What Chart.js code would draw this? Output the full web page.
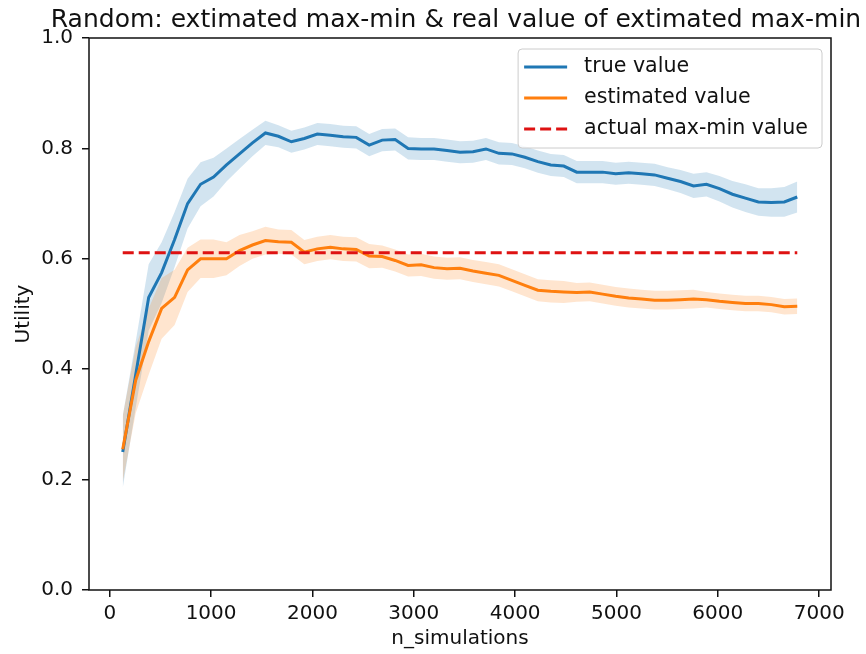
<!DOCTYPE html>
<html>
<head>
<meta charset="utf-8">
<script src="https://cdn.jsdelivr.net/npm/chart.js@4.4.1/dist/chart.umd.min.js"></script>
<style>
  html, body { margin: 0; padding: 0; background: #fff; }
</style>
</head>
<body>
<canvas id="chart" width="866" height="654"></canvas>
<script>
// values
const chartTitle = 'Random: extimated max-min & real value of extimated max-min';

const nSimulations = [128, 256, 384, 512, 640, 768, 896, 1024, 1152, 1280, 1408, 1536, 1664,
  1792, 1920, 2048, 2176, 2304, 2432, 2560, 2688, 2816, 2944, 3072, 3200, 3328, 3456, 3584,
  3712, 3840, 3968, 4096, 4224, 4352, 4480, 4608, 4736, 4864, 4992, 5120, 5248, 5376, 5504,
  5632, 5760, 5888, 6016, 6144, 6272, 6400, 6528, 6656, 6784];

const trueValue = [0.25, 0.39, 0.53, 0.575, 0.635, 0.70, 0.735, 0.748, 0.77, 0.79, 0.81, 0.828,
  0.822, 0.812, 0.818, 0.826, 0.824, 0.821, 0.820, 0.806, 0.815, 0.816, 0.800, 0.799, 0.799,
  0.796, 0.793, 0.794, 0.799, 0.791, 0.790, 0.784, 0.776, 0.770, 0.768, 0.757, 0.757, 0.757,
  0.754, 0.756, 0.754, 0.752, 0.746, 0.740, 0.732, 0.735, 0.727, 0.717, 0.710, 0.703, 0.702,
  0.703, 0.712];

const estimatedValue = [0.255, 0.38, 0.45, 0.51, 0.53, 0.58, 0.60, 0.60, 0.60, 0.615, 0.625,
  0.633, 0.631, 0.630, 0.612, 0.618, 0.621, 0.618, 0.617, 0.605, 0.604, 0.597, 0.588, 0.589,
  0.584, 0.582, 0.583, 0.578, 0.574, 0.570, 0.561, 0.552, 0.543, 0.541, 0.540, 0.539, 0.540,
  0.536, 0.532, 0.529, 0.527, 0.525, 0.525, 0.526, 0.527, 0.526, 0.523, 0.521, 0.519, 0.519,
  0.517, 0.513, 0.514];

// half width of the shaded confidence bands
const trueCi = [0.065, 0.06, 0.06, 0.055, 0.05, 0.045, 0.04, 0.035, 0.03, 0.027, 0.024, 0.022,
  0.02, 0.02, 0.02, 0.02, 0.02, 0.02, 0.02, 0.02, 0.02, 0.02, 0.02, 0.02, 0.02, 0.02, 0.02,
  0.02, 0.02, 0.02, 0.02, 0.02, 0.02, 0.02, 0.02, 0.02, 0.02, 0.02, 0.02, 0.02, 0.02, 0.02,
  0.02, 0.021, 0.022, 0.022, 0.023, 0.024, 0.025, 0.025, 0.026, 0.027, 0.028];

const estimatedCi = [0.06, 0.06, 0.06, 0.055, 0.05, 0.04, 0.035, 0.035, 0.03, 0.028, 0.025,
  0.025, 0.022, 0.022, 0.022, 0.022, 0.022, 0.022, 0.022, 0.022, 0.02, 0.02, 0.02, 0.02, 0.02,
  0.02, 0.02, 0.02, 0.02, 0.02, 0.02, 0.02, 0.02, 0.02, 0.02, 0.017, 0.017, 0.017, 0.017,
  0.017, 0.017, 0.017, 0.017, 0.017, 0.017, 0.014, 0.014, 0.014, 0.014, 0.014, 0.014, 0.014,
  0.014];

const maxMinValue = 0.611;

const xTicks = [0, 1000, 2000, 3000, 4000, 5000, 6000, 7000];
const yTicks = [0.0, 0.2, 0.4, 0.6, 0.8, 1.0];

const FONT = "'DejaVu Sans', sans-serif";
const BLUE = '#1f77b4';
const ORANGE = '#ff7f0e';
const RED = 'rgb(222,18,18)';

const pts = ys => nSimulations.map((x, i) => ({ x, y: ys[i] }));
const band = (ys, ci, sign) => nSimulations.map((x, i) => ({ x, y: ys[i] + sign * ci[i] }));

const span = nSimulations[nSimulations.length - 1] - nSimulations[0];
const xMin = nSimulations[0] - 0.05 * span;
const xMax = nSimulations[nSimulations.length - 1] + 0.05 * span;

// box round the axes, like matplotlib spines
const framePlugin = {
  id: 'frame',
  afterDatasetsDraw(chart) {
    const { ctx, chartArea: a } = chart;
    ctx.save();
    ctx.strokeStyle = '#111';
    ctx.lineWidth = 1.5;
    ctx.strokeRect(a.left, a.top, a.right - a.left, a.bottom - a.top);
    ctx.restore();
  }
};

const titlePlugin = {
  id: 'plotTitle',
  afterDraw(chart) {
    const { ctx, chartArea: a } = chart;
    ctx.save();
    ctx.font = '25px ' + FONT;
    ctx.fillStyle = '#111';
    ctx.textAlign = 'center';
    ctx.textBaseline = 'alphabetic';
    ctx.fillText(chartTitle, (a.left + a.right) / 2 - 4, 27);
    ctx.restore();
  }
};

const legendPlugin = {
  id: 'mplLegend',
  afterDraw(chart) {
    const { ctx, chartArea: a } = chart;
    const items = chart.data.datasets.filter(d => d.label);
    ctx.save();
    ctx.font = '20.6px ' + FONT;
    const textW = Math.max(...items.map(d => ctx.measureText(d.label).width));
    const w = 66 + textW + 14;
    const h = 99;
    const right = a.right - 9;
    const top = a.top + 11;
    const left = right - w;
    ctx.beginPath();
    ctx.roundRect(left, top, w, h, 4);
    ctx.fillStyle = 'rgba(255,255,255,0.8)';
    ctx.fill();
    ctx.strokeStyle = '#cccccc';
    ctx.lineWidth = 1;
    ctx.stroke();
    items.forEach((d, i) => {
      const y = top + 18 + i * 31;
      ctx.beginPath();
      ctx.setLineDash(d.borderDash || []);
      ctx.strokeStyle = d.borderColor;
      ctx.lineWidth = d.borderWidth;
      ctx.moveTo(left + 6, y);
      ctx.lineTo(left + 49, y);
      ctx.stroke();
      ctx.setLineDash([]);
      ctx.fillStyle = '#111';
      ctx.textAlign = 'left';
      ctx.textBaseline = 'middle';
      ctx.fillText(d.label, left + 66, y);
    });
    ctx.restore();
  }
};

const bandStyle = { borderWidth: 0, pointRadius: 0, borderColor: 'transparent' };

new Chart(document.getElementById('chart'), {
  type: 'line',
  data: {
    datasets: [
      { label: 'true value', data: pts(trueValue), borderColor: BLUE, borderWidth: 3,
        pointRadius: 0, fill: false, order: 2 },
      { label: 'estimated value', data: pts(estimatedValue), borderColor: ORANGE, borderWidth: 3,
        pointRadius: 0, fill: false, order: 1 },
      { label: 'actual max-min value', data: nSimulations.map(x => ({ x, y: maxMinValue })),
        borderColor: RED, borderWidth: 3, borderDash: [11, 5], pointRadius: 0, fill: false, order: 0 },
      { data: band(trueValue, trueCi, -1), ...bandStyle, fill: false, order: 4 },
      { data: band(trueValue, trueCi, 1), ...bandStyle, fill: '-1',
        backgroundColor: 'rgba(31,119,180,0.2)', order: 4 },
      { data: band(estimatedValue, estimatedCi, -1), ...bandStyle, fill: false, order: 3 },
      { data: band(estimatedValue, estimatedCi, 1), ...bandStyle, fill: '-1',
        backgroundColor: 'rgba(255,127,14,0.2)', order: 3 }
    ]
  },
  options: {
    responsive: false,
    animation: false,
    devicePixelRatio: 1,
    layout: { padding: { top: 38, right: 35, bottom: 0, left: 0 } },
    plugins: {
      legend: { display: false },
      tooltip: { enabled: false },
      title: { display: false }
    },
    scales: {
      x: {
        type: 'linear',
        min: xMin,
        max: xMax,
        afterFit(s) { s.height = 64; },
        afterBuildTicks(s) { s.ticks = xTicks.map(v => ({ value: v })); },
        grid: { drawOnChartArea: false, drawTicks: true, tickLength: 7, color: '#111', lineWidth: 1.5 },
        border: { display: false },
        ticks: { color: '#111', font: { family: FONT, size: 20 }, padding: 5, maxRotation: 0,
          autoSkip: false, callback: v => String(v) },
        title: { display: true, text: 'n_simulations', color: '#111',
          font: { family: FONT, size: 20 }, padding: { top: 0, bottom: 3 } }
      },
      y: {
        min: 0,
        max: 1,
        afterFit(s) { s.width = 89; },
        afterBuildTicks(s) { s.ticks = yTicks.map(v => ({ value: v })); },
        grid: { drawOnChartArea: false, drawTicks: true, tickLength: 7, color: '#111', lineWidth: 1.5 },
        border: { display: false },
        ticks: { color: '#111', font: { family: FONT, size: 20 }, padding: 9,
          callback: v => v.toFixed(1) },
        title: { display: true, text: 'Utility', color: '#111',
          font: { family: FONT, size: 20 }, padding: { top: 12, bottom: 0 } }
      }
    }
  },
  plugins: [framePlugin, titlePlugin, legendPlugin]
});
</script>
</body>
</html>
